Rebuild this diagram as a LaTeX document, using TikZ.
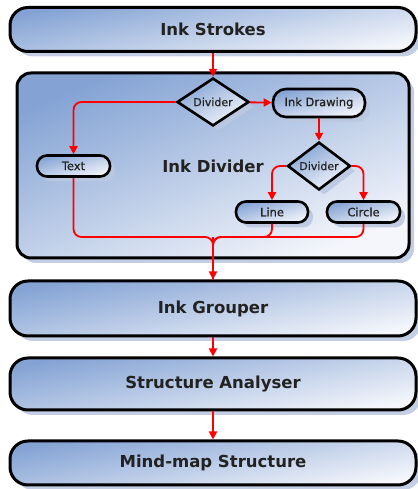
\documentclass[tikz,border=0pt]{standalone}
\usepackage{fontspec}
\setmainfont{DejaVu Sans}
\newfontfamily\inksmall[FakeBold=0.7]{DejaVu Sans}
\usepackage{tikz}
\usetikzlibrary{shapes.geometric, arrows.meta, shadows}
\definecolor{InkDark}{HTML}{84A3D4}
\definecolor{InkLight}{HTML}{F4F6FB}
\definecolor{InkShadow}{HTML}{BCC8E0}
\definecolor{InkText}{HTML}{222222}
\definecolor{FlowRed}{HTML}{FF0000}

\begin{document}
\begin{tikzpicture}[
    x=1pt, y=1pt,
    text=InkText,
    inkfill/.style={top color=InkDark, middle color=InkDark!88!InkLight, bottom color=InkLight, shading angle=#1},
    inkfill/.default=11,
    inkshadow/.style={drop shadow={shadow xshift=5pt, shadow yshift=-5pt, fill=InkShadow, opacity=0.9}},
    stage/.style={rectangle, draw=black, inkfill, inkshadow, rounded corners=18pt, minimum width=406pt, align=center, line width=3pt, font=\bfseries\fontsize{16.5}{19}\selectfont, inner sep=0pt},
    group/.style={rectangle, draw=black, inkfill=22, inkshadow, rounded corners=14pt, minimum width=392pt, minimum height=185pt, line width=3pt, inner sep=0pt},
    pill/.style={rectangle, draw=black, inkfill=16, inkshadow, rounded corners=10pt, minimum height=21pt, align=center, line width=2.6pt, font=\inksmall\fontsize{11.5}{13}\selectfont, inner sep=0pt},
    decide/.style={diamond, draw=black, inkfill=30, inkshadow, line width=2.6pt, font=\inksmall\fontsize{11}{13}\selectfont, inner sep=0pt},
    arr/.style={-{Triangle[length=8pt, width=8pt]}, line width=1.8pt, color=FlowRed},
    lnk/.style={line width=1.8pt, color=FlowRed, rounded corners=8pt}
]
    \useasboundingbox (0,0) rectangle (417,489);

    % Pipeline stages
    \node[stage, minimum height=44pt] (strokes) at (213,459.5) {Ink Strokes};
    \node[group] (divider) at (213,323.5) {};
    \node[stage, minimum height=55pt] (grouper) at (213,180.5) {Ink Grouper};
    \node[stage, minimum height=52pt] (analyser) at (213,105) {Structure Analyser};
    \node[stage, minimum height=44pt] (mindmap) at (213,26) {Mind-map Structure};

    % Inside the divider
    \node[font=\bfseries\fontsize{16.5}{19}\selectfont] (dividerlabel) at (213,323) {Ink Divider};
    \node[decide, minimum width=72pt, minimum height=45pt] (div1) at (213,387) {Divider};
    \node[pill, minimum width=92pt, minimum height=28pt, rounded corners=13pt] (drawing) at (319,386) {Ink Drawing};
    \node[pill, minimum width=73pt] (text) at (73.5,323) {Text};
    \node[decide, minimum width=63pt, minimum height=44pt] (div2) at (319,323) {Divider};
    \node[pill, minimum width=72pt] (line) at (272,277) {Line};
    \node[pill, minimum width=73pt] (circle) at (363.5,277) {Circle};
    \coordinate (join) at (213,252);

    % Connections
    \draw[arr] (strokes) -- (div1);
    \draw[arr] (div1) -- (drawing);
    \draw[arr, rounded corners=8pt] (div1.west) -| (text.north);
    \draw[arr] (drawing) -- (div2);
    \draw[arr, rounded corners=8pt] (div2.west) -| (line.north);
    \draw[arr, rounded corners=8pt] (div2.east) -| (circle.north);
    \draw[lnk] (text.south) |- (join) -- (grouper.north);
    \draw[lnk] (line.south) |- (join) -- (grouper.north);
    \draw[lnk] (circle.south) |- (join) -- (grouper.north);
    \draw[arr] (join) -- (grouper.north);
    \draw[arr] (grouper) -- (analyser);
    \draw[arr] (analyser) -- (mindmap);
\end{tikzpicture}
\end{document}
